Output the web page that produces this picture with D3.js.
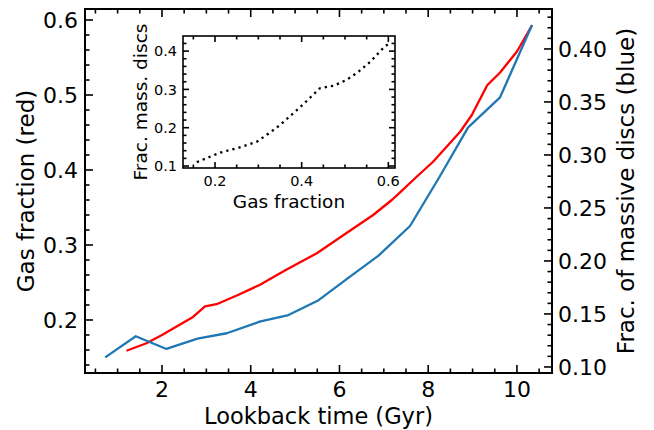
<!DOCTYPE html>
<html><head><meta charset="utf-8">
<script src="https://cdn.jsdelivr.net/npm/d3@7/dist/d3.min.js"></script>
<style>body{margin:0;background:#fff}svg{display:block}text{font-family:"DejaVu Sans",sans-serif;fill:#000}</style>
</head><body><svg id="c" width="654" height="430"></svg>
<script>
// Red line: gas fraction vs lookback time (Gyr)
const redTime = [1.2, 1.65, 2.0, 2.35, 2.7, 2.97, 3.23, 3.7, 4.21, 4.8, 5.49, 6.16, 6.76, 7.18, 7.36, 7.74, 8.11, 8.72, 8.98, 9.33, 9.62, 10.0, 10.34];
const redGas  = [0.159, 0.169, 0.180, 0.192, 0.204, 0.218, 0.221, 0.233, 0.247, 0.267, 0.289, 0.316, 0.34, 0.36, 0.3698, 0.391, 0.411, 0.451, 0.473, 0.513, 0.53, 0.558, 0.593];
// Blue line: fraction of massive discs vs lookback time (Gyr)
const blueTime = [0.72, 1.41, 2.1, 2.8, 3.46, 4.2, 4.85, 5.53, 6.2, 6.88, 7.59, 8.25, 8.9, 9.62, 10.34];
const blueFrac = [0.109, 0.129, 0.117, 0.1267, 0.1318, 0.1427, 0.149, 0.163, 0.184, 0.205, 0.233, 0.279, 0.326, 0.3544, 0.4226];
// Inset: fraction of massive discs vs gas fraction
const insetGas  = [0.158, 0.19, 0.212, 0.255, 0.296, 0.33, 0.35, 0.396, 0.442, 0.475, 0.504, 0.53, 0.558, 0.59, 0.606];
const insetFrac = [0.110, 0.125, 0.135, 0.148, 0.163, 0.19, 0.207, 0.253, 0.303, 0.31, 0.325, 0.345, 0.372, 0.41, 0.424];
// Tick labels
const xTicks = [2, 4, 6, 8, 10];
const leftTicks = [0.2, 0.3, 0.4, 0.5, 0.6];
const rightTicks = [0.10, 0.15, 0.20, 0.25, 0.30, 0.35, 0.40];
const insetXTicks = [0.2, 0.4, 0.6];
const insetYTicks = [0.1, 0.2, 0.3, 0.4];

const svg = d3.select("#c");
const L = 85, R = 552, T = 9, B = 373;
const x = d3.scaleLinear().domain([0.265, 10.79]).range([L, R]);
const yL = d3.scaleLinear().domain([0.1293, 0.6147]).range([B, T]);
const yR = d3.scaleLinear().domain([0.0943, 0.4377]).range([B, T]);

function minors(lo, hi, step, majors) {
  const out = [];
  for (let v = lo; v <= hi + 1e-9; v += step) {
    const r = Math.round(v * 1000) / 1000;
    if (!majors.some(m => Math.abs(m - r) < 1e-6)) out.push(r);
  }
  return out;
}

// Lines
const lineR = d3.line().x((d, i) => x(redTime[i])).y(d => yL(d));
const lineB = d3.line().x((d, i) => x(blueTime[i])).y(d => yR(d));
svg.append("path").attr("d", lineR(redGas)).attr("fill", "none").attr("stroke", "#ff0000").attr("stroke-width", 2.3).attr("stroke-linejoin", "round");
svg.append("path").attr("d", lineB(blueFrac)).attr("fill", "none").attr("stroke", "#1f77b4").attr("stroke-width", 2.3).attr("stroke-linejoin", "round");

// Ticks helper
function ticks(g, vals, pos, len, orient) {
  vals.forEach(v => {
    const p = pos(v);
    let x1, y1, x2, y2;
    if (orient === "bottom") { x1 = x2 = p; y1 = g.b; y2 = g.b - len; }
    if (orient === "top") { x1 = x2 = p; y1 = g.t; y2 = g.t + len; }
    if (orient === "left") { y1 = y2 = p; x1 = g.l; x2 = g.l + len; }
    if (orient === "right") { y1 = y2 = p; x1 = g.r; x2 = g.r - len; }
    svg.append("line").attr("x1", x1).attr("y1", y1).attr("x2", x2).attr("y2", y2)
      .attr("stroke", "#000").attr("stroke-width", 1.6);
  });
}
const G = {l: L, r: R, t: T, b: B};
const xMin = minors(0.5, 10.5, 0.5, xTicks);
ticks(G, xTicks, x, 8, "bottom"); ticks(G, xTicks, x, 8, "top");
ticks(G, xMin, x, 4.5, "bottom"); ticks(G, xMin, x, 4.5, "top");
ticks(G, leftTicks, yL, 8, "left");
ticks(G, minors(0.14, 0.60, 0.02, leftTicks), yL, 4.5, "left");
ticks(G, rightTicks, yR, 8, "right");
ticks(G, minors(0.10, 0.43, 0.01, rightTicks), yR, 4.5, "right");
svg.append("rect").attr("x", L).attr("y", T).attr("width", R - L).attr("height", B - T)
  .attr("fill", "none").attr("stroke", "#000").attr("stroke-width", 2);

// Tick labels
xTicks.forEach(v => svg.append("text").attr("x", x(v)).attr("y", 396.5).attr("text-anchor", "middle")
  .attr("font-size", 22).text(v));
leftTicks.forEach(v => svg.append("text").attr("x", 78).attr("y", yL(v)).attr("dy", "0.36em").attr("text-anchor", "end")
  .attr("font-size", 22).text(v.toFixed(1)));
rightTicks.forEach(v => svg.append("text").attr("x", 558).attr("y", yR(v)).attr("dy", "0.36em").attr("text-anchor", "start")
  .attr("font-size", 22).text(v.toFixed(2)));

// Axis labels
svg.append("text").attr("x", (L + R) / 2).attr("y", 424).attr("text-anchor", "middle").attr("font-size", 22.5).text("Lookback time (Gyr)");
svg.append("text").attr("transform", `translate(34,${(T + B) / 2}) rotate(-90)`).attr("text-anchor", "middle").attr("font-size", 23).text("Gas fraction (red)");
svg.append("text").attr("transform", `translate(634,${(T + B) / 2}) rotate(-90)`).attr("text-anchor", "middle").attr("font-size", 23).text("Frac. of massive discs (blue)");

// Inset
const iL = 183, iR = 395, iT = 36, iB = 168;
const ix = d3.scaleLinear().domain([0.1261, 0.6154]).range([iL, iR]);
const iy = d3.scaleLinear().domain([0.0948, 0.4394]).range([iB, iT]);
svg.append("rect").attr("x", iL).attr("y", iT).attr("width", iR - iL).attr("height", iB - iT).attr("fill", "#fff");
const lineI = d3.line().x((d, i) => ix(insetGas[i])).y(d => iy(d));
svg.append("path").attr("d", lineI(insetFrac)).attr("fill", "none").attr("stroke", "#000")
  .attr("stroke-width", 2.3).attr("stroke-dasharray", "2.3,4");
const IG = {l: iL, r: iR, t: iT, b: iB};
const ixMin = minors(0.15, 0.6, 0.05, insetXTicks);
const iyMin = minors(0.1, 0.42, 0.02, insetYTicks);
ticks(IG, insetXTicks, ix, 6, "bottom"); ticks(IG, insetXTicks, ix, 6, "top");
ticks(IG, ixMin, ix, 3.5, "bottom"); ticks(IG, ixMin, ix, 3.5, "top");
ticks(IG, insetYTicks, iy, 6, "left"); ticks(IG, insetYTicks, iy, 6, "right");
ticks(IG, iyMin, iy, 3.5, "left"); ticks(IG, iyMin, iy, 3.5, "right");
svg.append("rect").attr("x", iL).attr("y", iT).attr("width", iR - iL).attr("height", iB - iT)
  .attr("fill", "none").attr("stroke", "#000").attr("stroke-width", 1.6);
insetXTicks.forEach(v => svg.append("text").attr("x", ix(v)).attr("y", 186).attr("text-anchor", "middle")
  .attr("font-size", 14.5).text(v.toFixed(1)));
insetYTicks.forEach(v => svg.append("text").attr("x", 177).attr("y", iy(v)).attr("dy", "0.36em").attr("text-anchor", "end")
  .attr("font-size", 14.5).text(v.toFixed(1)));
svg.append("text").attr("x", (iL + iR) / 2).attr("y", 208).attr("text-anchor", "middle").attr("font-size", 18.5).text("Gas fraction");
svg.append("text").attr("transform", `translate(147,${(iT + iB) / 2}) rotate(-90)`).attr("text-anchor", "middle").attr("font-size", 18.5).text("Frac. mass. discs");
</script></body></html>
